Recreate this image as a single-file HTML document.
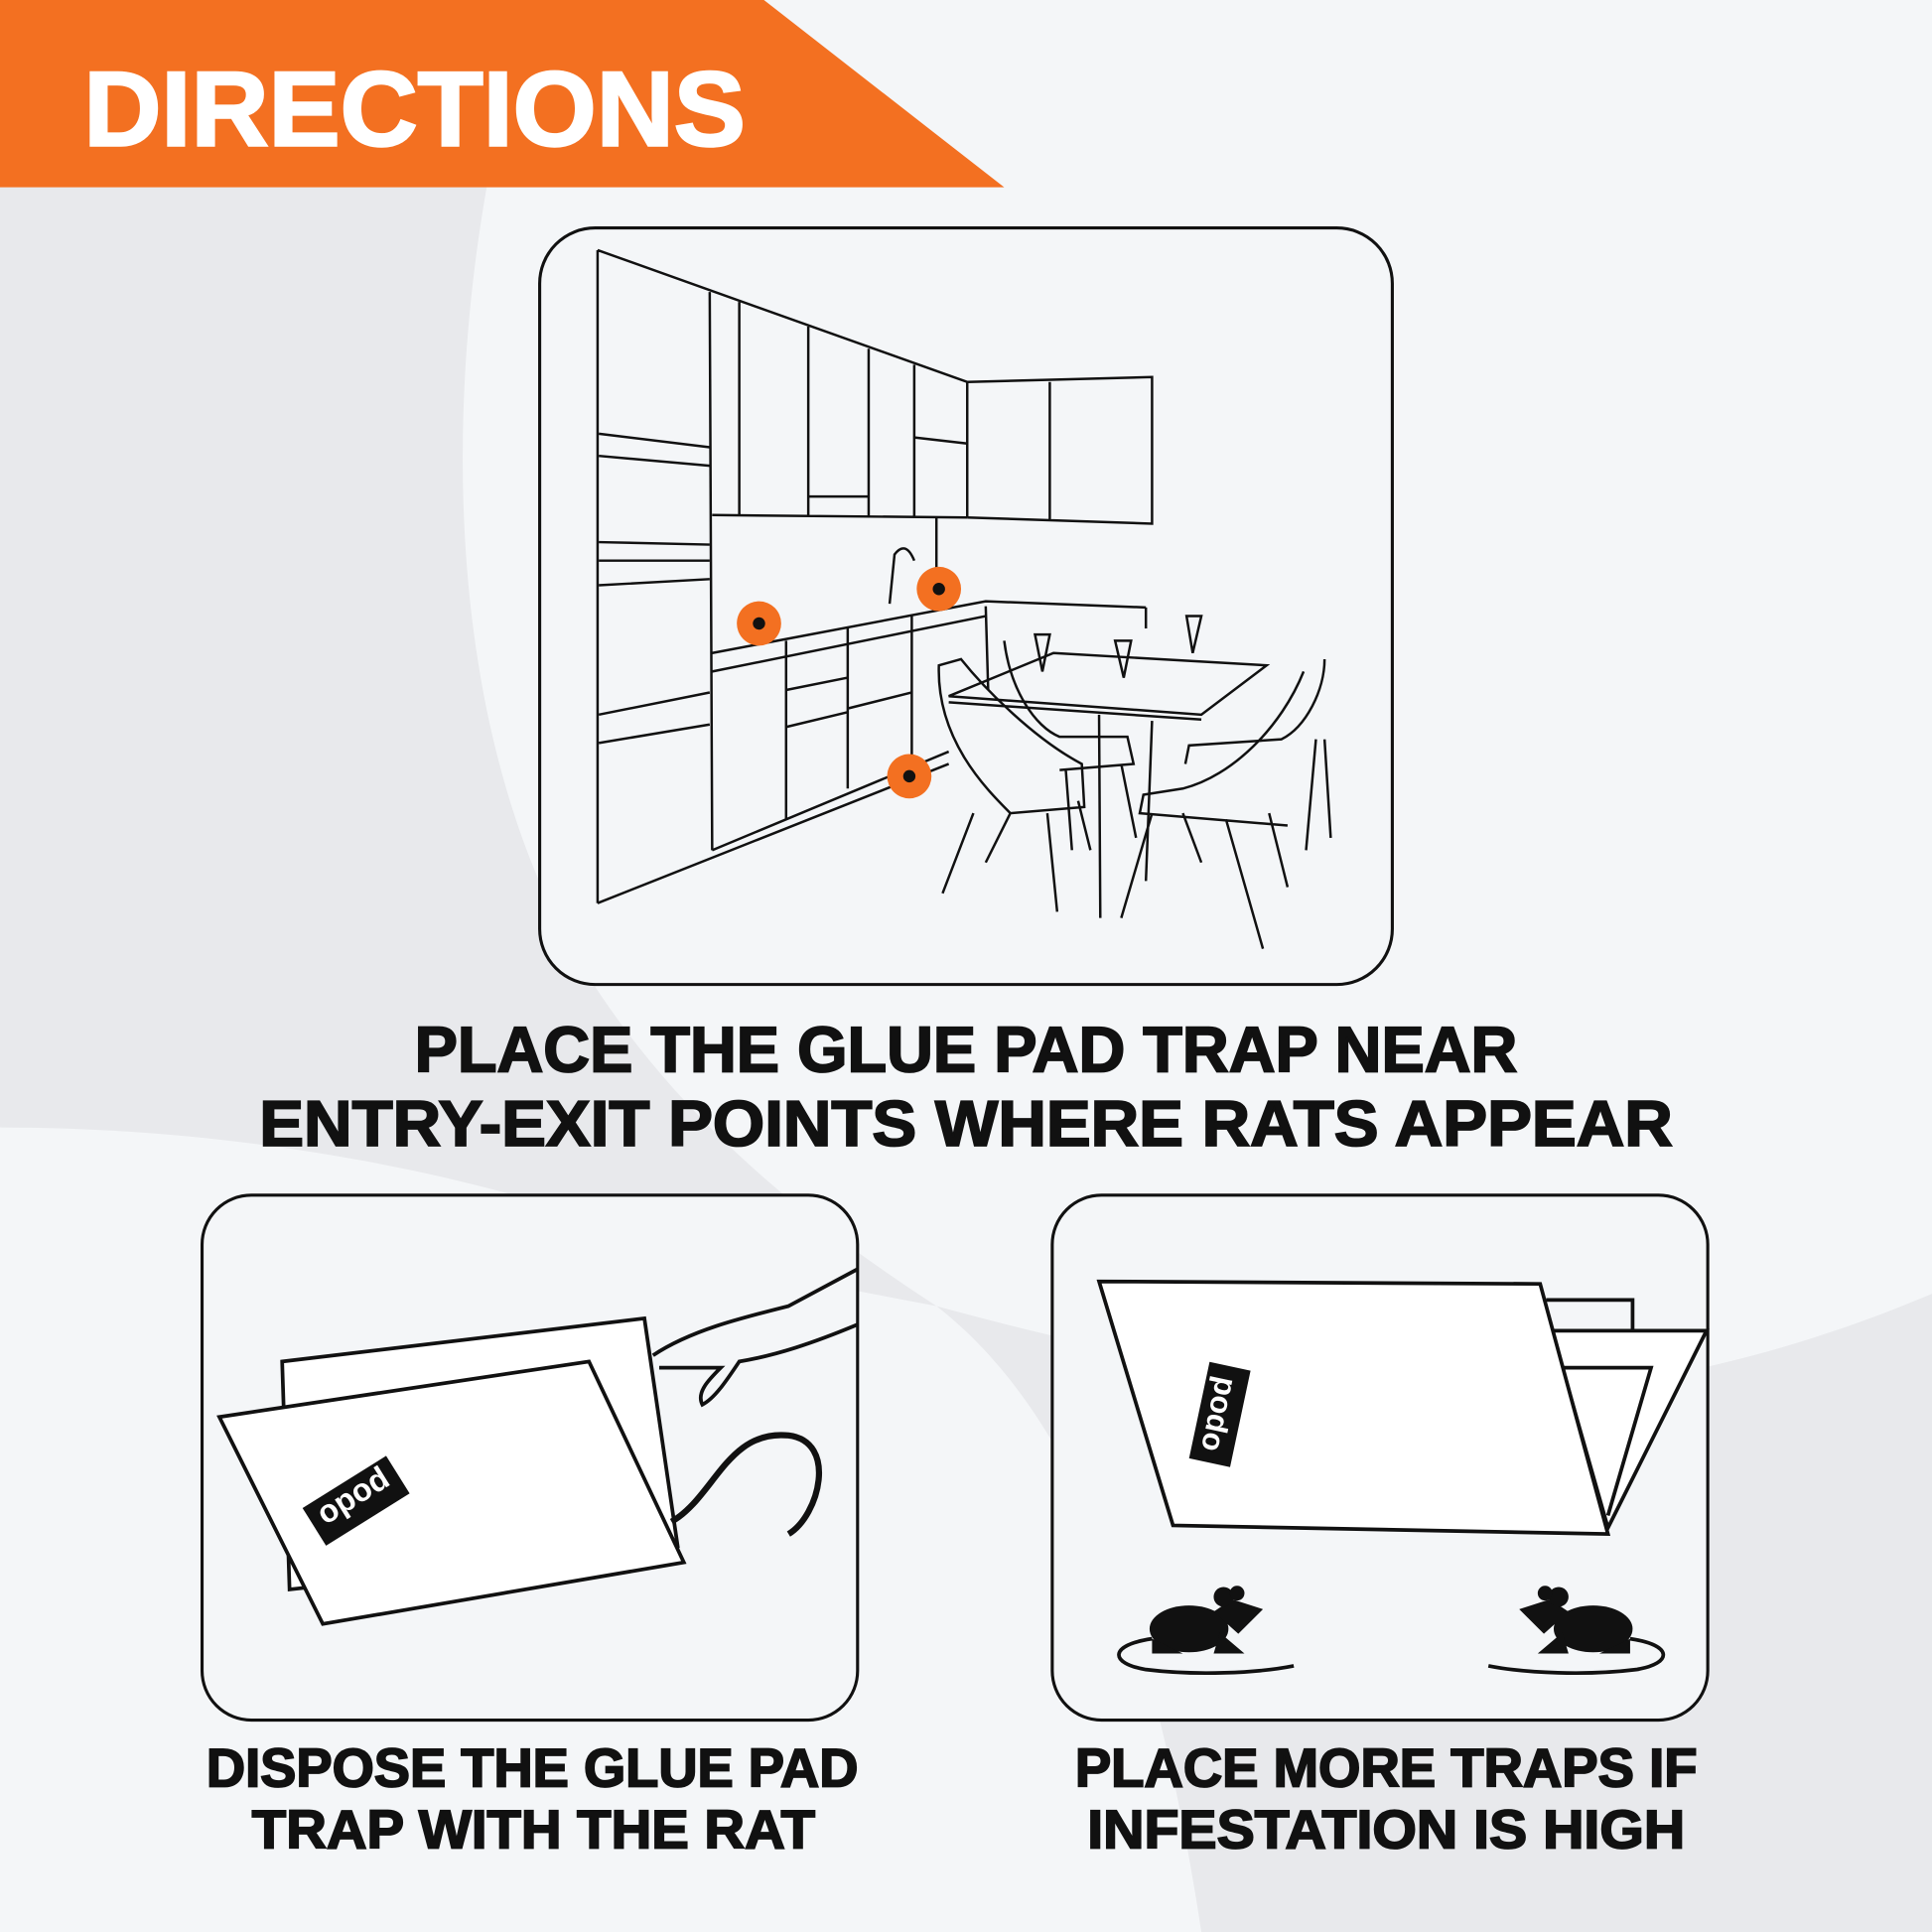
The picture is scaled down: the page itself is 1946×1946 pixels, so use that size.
<!DOCTYPE html>
<html><head><meta charset="utf-8"><style>
html,body{margin:0;padding:0;background:#f4f6f8;}
svg{display:block;}
text{font-family:"Liberation Sans",sans-serif;font-weight:bold;}
</style></head><body>
<svg width="1946" height="1946" viewBox="0 0 1568 1568" xmlns="http://www.w3.org/2000/svg">
<rect width="1568" height="1568" fill="#f4f6f8"/>
<path d="M0 152 L395 152 C360 350 365 600 470 780 C560 930 700 1020 760 1060 L0 915 Z" fill="#e8e9ec"/>
<path d="M760 1060 C850 1130 930 1270 975 1568 L1568 1568 L1568 1050 C1450 1100 1300 1140 1150 1130 C1000 1120 870 1090 760 1060 Z" fill="#e8e9ec"/>
<path d="M0 915 C250 915 520 975 700 1090 C840 1180 920 1330 975 1568 L0 1568 Z" fill="#f4f6f8"/>
<polygon points="0,0 620,0 815,152 0,152" fill="#f37021"/>
<text x="68" y="118" font-size="86" fill="#fff" stroke="#fff" stroke-width="2" textLength="537" lengthAdjust="spacingAndGlyphs">DIRECTIONS</text>
<rect x="438" y="185" width="692" height="614" rx="45" fill="#f4f6f8" stroke="#111" stroke-width="2.5"/>
<g fill="none" stroke="#111" stroke-width="2">
<path d="M485 203 L485 733 M485 203 L785 310 L785 420 M485 733 L770 620"/>
<path d="M576 237 L578 690 M600 245 L600 418 M656 265 L656 418 M705 283 L705 420 M742 296 L742 420 M578 418 L785 420"/>
<path d="M486 352 L576 363 M486 370 L576 378 M486 440 L576 442 M486 455 L576 455 M486 475 L576 470 M486 580 L576 562 M486 603 L576 588"/>
<path d="M785 310 L935 306 L935 425 L785 420 M852 310 L852 422 M742 355 L785 360 M656 403 L705 403"/>
<path d="M578 530 L800 488 L930 493 M578 545 L800 500 M638 520 L638 665 M688 510 L688 640 M740 500 L740 618 M638 560 L688 550 M638 590 L688 578 M688 575 L740 562 M578 690 L770 610"/>
<path d="M760 420 L760 470 M800 492 L802 560 M930 493 L930 510"/>
<path d="M722 490 L726 450 Q735 438 742 455"/>
<path d="M770 565 L975 580 L1028 540 L855 530 Z M770 570 L975 584"/>
<path d="M762 540 C760 600 800 640 820 660 L880 655 L878 620 C840 600 800 560 780 535 Z M790 660 L765 725 M820 660 L800 700 M850 660 L858 740 M875 650 L885 690"/>
<path d="M815 520 C820 560 840 590 860 598 L915 598 L920 620 L860 625 M865 625 L870 690 M910 620 L922 680"/>
<path d="M1058 545 C1040 590 1000 630 960 640 L928 645 L925 660 L1045 670 M935 660 L910 745 M960 660 L975 700 M995 665 L1025 770 M1030 660 L1045 720"/>
<path d="M1075 535 C1075 560 1060 590 1040 600 L965 605 L962 620 M1068 600 L1060 690 M1075 600 L1080 680"/>
<path d="M892 580 L893 745 M935 585 L930 715"/>
<path d="M963 500 L968 530 L975 500 Z M840 515 L846 545 L852 515 Z M905 520 L912 550 L918 520 Z"/>
</g>
<circle cx="616" cy="506" r="18" fill="#f37021"/><circle cx="616" cy="506" r="5" fill="#111"/>
<circle cx="762" cy="478" r="18" fill="#f37021"/><circle cx="762" cy="478" r="5" fill="#111"/>
<circle cx="738" cy="630" r="18" fill="#f37021"/><circle cx="738" cy="630" r="5" fill="#111"/>
<g fill="#111" stroke="#111" stroke-width="1.5">
<text x="784" y="870" font-size="52" text-anchor="middle" textLength="895" lengthAdjust="spacingAndGlyphs">PLACE THE GLUE PAD TRAP NEAR</text>
<text x="784" y="930" font-size="52" text-anchor="middle" textLength="1147" lengthAdjust="spacingAndGlyphs">ENTRY-EXIT POINTS WHERE RATS APPEAR</text>
<text x="432" y="1450" font-size="44" text-anchor="middle" textLength="529" lengthAdjust="spacingAndGlyphs">DISPOSE THE GLUE PAD</text>
<text x="433" y="1500" font-size="44" text-anchor="middle" textLength="457" lengthAdjust="spacingAndGlyphs">TRAP WITH THE RAT</text>
<text x="1125" y="1450" font-size="44" text-anchor="middle" textLength="505" lengthAdjust="spacingAndGlyphs">PLACE MORE TRAPS IF</text>
<text x="1125" y="1500" font-size="44" text-anchor="middle" textLength="485" lengthAdjust="spacingAndGlyphs">INFESTATION IS HIGH</text>
</g>
<rect x="164" y="970" width="532" height="426" rx="40" fill="#f4f6f8" stroke="#111" stroke-width="2.5"/>
<rect x="854" y="970" width="532" height="426" rx="40" fill="#f4f6f8" stroke="#111" stroke-width="2.5"/>
<g fill="#fff" stroke="#111" stroke-width="3">
<polygon points="229,1105 523,1070 550,1255 235,1290"/>
<polygon points="178,1150 478,1105 555,1268 262,1318"/>
<path d="M530 1100 C560 1080 600 1070 640 1060 L696 1030 M696 1075 C660 1090 630 1100 600 1105 C590 1120 580 1135 570 1140 C565 1130 575 1120 585 1110 L535 1110" fill="none"/>
<path d="M545 1235 C580 1215 590 1160 640 1165 C680 1170 665 1230 640 1245" fill="none" stroke-width="5"/>
</g>
<g transform="translate(289 1218) rotate(-32)"><rect x="-40" y="-18" width="80" height="36" fill="#111"/><text x="0" y="10" font-size="26" fill="#fff" text-anchor="middle" transform="rotate(180)">podo</text></g>
<g fill="#fff" stroke="#111" stroke-width="3">
<polyline points="1255,1055 1325,1055 1325,1080" fill="none"/>
<polygon points="1255,1080 1385,1080 1305,1240 1268,1110"/>
<polyline points="1262,1110 1340,1110 1305,1230" fill="none"/>
<polygon points="892,1040 1250,1042 1305,1245 952,1238"/>
</g>
<g transform="translate(990 1148) rotate(-78)"><rect x="-40" y="-17" width="80" height="34" fill="#111"/><text x="0" y="9" font-size="25" fill="#fff" text-anchor="middle" transform="rotate(180)">podo</text></g>
<g id="rat" fill="#111">
<ellipse cx="965" cy="1322" rx="32" ry="19"/>
<path d="M985 1308 L1000 1298 L1025 1306 L1005 1326 Z"/>
<circle cx="993" cy="1296" r="8"/><circle cx="1004" cy="1293" r="6"/>
<path d="M935 1330 L935 1342 L960 1342 Z M990 1325 L1010 1342 L985 1342 Z"/>
<path d="M935 1330 C900 1335 900 1350 930 1355 C970 1360 1020 1358 1050 1352" fill="none" stroke="#111" stroke-width="3"/>
</g>
<use href="#rat" transform="translate(2258 0) scale(-1 1)"/>
</svg>
</body></html>
